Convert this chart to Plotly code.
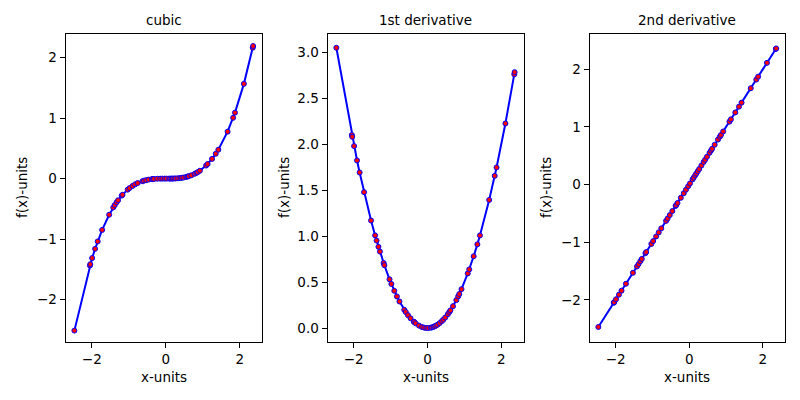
import plotly.graph_objects as go

# Sample points
x_vals = [-2.47, -2.05, -2.04, -1.99, -1.91, -1.84, -1.72, -1.53, -1.42, -1.38, -1.33, -1.29,
          -1.19, -1.17, -1.03, -0.98, -0.90, -0.83, -0.76, -0.63, -0.59, -0.53, -0.46, -0.37,
          -0.36, -0.32, -0.23, -0.15, -0.09, -0.03, 0.02, 0.09, 0.12, 0.16, 0.19, 0.23, 0.27,
          0.33, 0.39, 0.43, 0.48, 0.55, 0.59, 0.62, 0.69, 0.78, 0.83, 0.86, 0.92, 1.09, 1.13,
          1.25, 1.35, 1.42, 1.67, 1.82, 1.87, 2.11, 2.35, 2.36]

cubic_vals = [-2.512, -1.436, -1.415, -1.313, -1.161, -1.038, -0.848, -0.597, -0.477, -0.438,
              -0.392, -0.358, -0.281, -0.267, -0.182, -0.157, -0.122, -0.095, -0.073, -0.042,
              -0.034, -0.025, -0.016, -0.008, -0.008, -0.005, -0.002, -0.001, 0.0, 0.0, 0.0,
              0.0, 0.0003, 0.0007, 0.001, 0.002, 0.003, 0.006, 0.010, 0.013, 0.018, 0.028,
              0.034, 0.040, 0.055, 0.079, 0.095, 0.106, 0.130, 0.216, 0.241, 0.326, 0.410,
              0.477, 0.776, 1.005, 1.090, 1.566, 2.163, 2.191]

first_deriv_vals = [3.050, 2.101, 2.081, 1.980, 1.824, 1.693, 1.479, 1.170, 1.008, 0.952, 0.884,
                    0.832, 0.708, 0.684, 0.530, 0.480, 0.405, 0.344, 0.289, 0.198, 0.174, 0.140,
                    0.106, 0.068, 0.065, 0.051, 0.026, 0.011, 0.004, 0.0005, 0.0002, 0.004,
                    0.007, 0.013, 0.018, 0.026, 0.036, 0.054, 0.076, 0.092, 0.115, 0.151, 0.174,
                    0.192, 0.238, 0.304, 0.344, 0.370, 0.423, 0.594, 0.638, 0.781, 0.911, 1.008,
                    1.394, 1.656, 1.748, 2.226, 2.761, 2.785]

second_deriv_vals = [-2.47, -2.05, -2.04, -1.99, -1.91, -1.84, -1.72, -1.53, -1.42, -1.38, -1.33,
                     -1.29, -1.19, -1.17, -1.03, -0.98, -0.90, -0.83, -0.76, -0.63, -0.59, -0.53,
                     -0.46, -0.37, -0.36, -0.32, -0.23, -0.15, -0.09, -0.03, 0.02, 0.09, 0.12,
                     0.16, 0.19, 0.23, 0.27, 0.33, 0.39, 0.43, 0.48, 0.55, 0.59, 0.62, 0.69, 0.78,
                     0.83, 0.86, 0.92, 1.09, 1.13, 1.25, 1.35, 1.42, 1.67, 1.82, 1.87, 2.11, 2.35,
                     2.36]

titles = ["cubic", "1st derivative", "2nd derivative"]
series = [cubic_vals, first_deriv_vals, second_deriv_vals]

W, H = 800, 400
panels_px = [(65.5, 262.0), (327.5, 523.5), (589.5, 785.0)]
top_px, bottom_px = 34.0, 342.0
y_ranges = [[-2.70, 2.39], [-0.152, 3.20], [-2.73, 2.61]]
y_ticks = [[-2, -1, 0, 1, 2], [0, 0.5, 1.0, 1.5, 2.0, 2.5, 3.0], [-2, -1, 0, 1, 2]]
y_fmt = ["d", ".1f", "d"]
x_range = [-2.71, 2.60]

FONT = "DejaVu Sans"
fig = go.Figure()
annotations = []
yd = [1 - bottom_px / H, 1 - top_px / H]

for i in range(3):
    sfx = "" if i == 0 else str(i + 1)
    fig.add_trace(go.Scatter(
        x=x_vals, y=series[i], mode="lines+markers",
        line=dict(color="#0000ff", width=2),
        marker=dict(color="red", size=5, line=dict(color="#0000ff", width=1)),
        xaxis="x" + sfx, yaxis="y" + sfx, showlegend=False,
    ))
    l, r = panels_px[i]
    xd = [l / W, r / W]
    axis_common = dict(showline=True, mirror=True, linecolor="black", linewidth=1,
                       ticks="outside", ticklen=5, tickwidth=1, tickcolor="black",
                       showgrid=False, zeroline=False,
                       tickfont=dict(family=FONT, size=13.5, color="black"))
    fig.update_layout(**{
        "xaxis" + sfx: dict(domain=xd, range=x_range, tickvals=[-2, 0, 2],
                            anchor="y" + sfx, **axis_common),
        "yaxis" + sfx: dict(domain=yd, range=y_ranges[i], tickvals=y_ticks[i],
                            tickformat=y_fmt[i], anchor="x" + sfx, **axis_common),
    })
    cx = (l + r) / 2 / W
    annotations.append(dict(text=titles[i], x=cx, y=1 - 20 / H, xref="paper", yref="paper",
                            showarrow=False, font=dict(family=FONT, size=13.5, color="black"),
                            xanchor="center", yanchor="middle"))
    annotations.append(dict(text="x-units", x=cx, y=1 - 377 / H, xref="paper", yref="paper",
                            showarrow=False, font=dict(family=FONT, size=13.5, color="black"),
                            xanchor="center", yanchor="middle"))
    label_x = [22, 284, 546][i]
    annotations.append(dict(text="f(x)-units", x=label_x / W, y=1 - 188 / H, xref="paper",
                            yref="paper", showarrow=False, textangle=-90,
                            font=dict(family=FONT, size=13.5, color="black"),
                            xanchor="center", yanchor="middle"))

fig.update_layout(width=W, height=H, margin=dict(l=0, r=0, t=0, b=0),
                  paper_bgcolor="white", plot_bgcolor="white",
                  annotations=annotations)

fig.write_html("out.html")
